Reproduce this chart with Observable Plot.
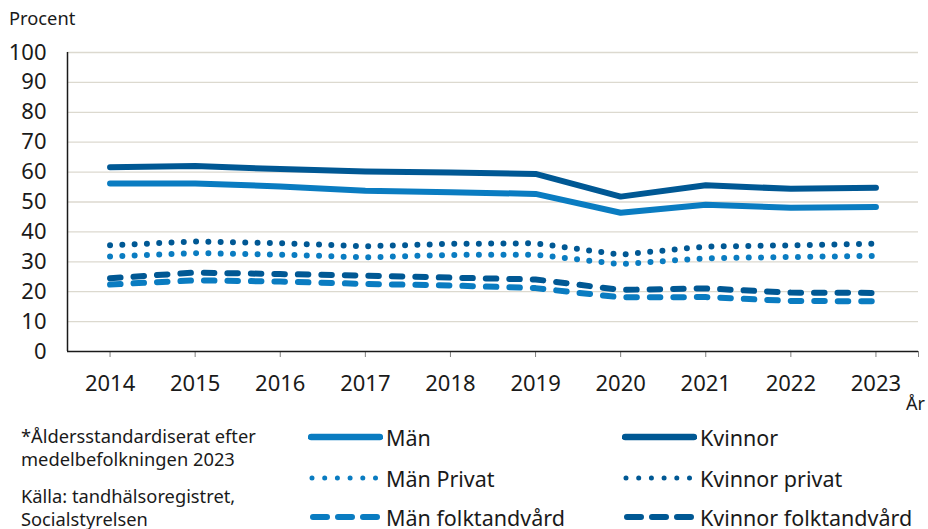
<!DOCTYPE html>
<html>
<head>
<meta charset="utf-8">
<script src="https://cdn.jsdelivr.net/npm/d3@7"></script>
<script src="https://cdn.jsdelivr.net/npm/@observablehq/plot@0.6"></script>
<style>
  body { margin: 0; background: #fff; font-family: "Noto Sans", sans-serif; color: #1a1a1a; }
  #wrap { position: relative; width: 928px; height: 529px; overflow: hidden; }
  .abs { position: absolute; white-space: nowrap; }
  .note { font-size: 18.3px; line-height: 23px; }
  .leg { font-size: 21.5px; display: flex; align-items: center; }
  .leg svg { margin-right: 3px; }
</style>
</head>
<body>
<div id="wrap"></div>
<script>
const years = [2014, 2015, 2016, 2017, 2018, 2019, 2020, 2021, 2022, 2023];
const man = [56.2, 56.2, 55.2, 53.8, 53.3, 52.7, 46.4, 49.1, 48.1, 48.3];
const kvinnor = [61.6, 62.0, 61.0, 60.2, 59.9, 59.4, 51.8, 55.6, 54.4, 54.8];
const manPrivat = [31.8, 32.9, 32.4, 31.5, 32.3, 32.4, 29.2, 31.2, 31.6, 32.0];
const kvinnorPrivat = [35.5, 36.8, 36.2, 35.2, 36.0, 36.2, 32.4, 35.1, 35.5, 36.1];
const manFolk = [22.4, 23.8, 23.4, 22.6, 22.1, 21.2, 18.1, 18.2, 16.9, 16.8];
const kvinnorFolk = [24.5, 26.4, 25.9, 25.4, 24.7, 24.1, 20.6, 21.1, 19.7, 19.6];
const yTicks = [0, 10, 20, 30, 40, 50, 60, 70, 80, 90, 100];
const seriesNames = ["Män", "Kvinnor", "Män Privat", "Kvinnor privat", "Män folktandvård", "Kvinnor folktandvård"];

const C_MAN = "#0a7cc1";
const C_KV = "#005894";
const DOT = "0,12.3";
const DASH = "10.5,13";

const seriesDefs = [
  {name: seriesNames[0], values: man, color: C_MAN, dash: null},
  {name: seriesNames[1], values: kvinnor, color: C_KV, dash: null},
  {name: seriesNames[2], values: manPrivat, color: C_MAN, dash: DOT},
  {name: seriesNames[3], values: kvinnorPrivat, color: C_KV, dash: DOT},
  {name: seriesNames[4], values: manFolk, color: C_MAN, dash: DASH},
  {name: seriesNames[5], values: kvinnorFolk, color: C_KV, dash: DASH}
];

const lineMarks = seriesDefs.map(s => Plot.line(
  years.map((y, i) => ({year: y, value: s.values[i]})),
  {x: "year", y: "value", stroke: s.color, strokeWidth: 6,
   strokeLinecap: "round", strokeLinejoin: "round",
   strokeDasharray: s.dash ?? undefined}
));

const xLo = years[0] - 0.5, xHi = years[years.length - 1] + 0.5;

const chart = Plot.plot({
  width: 928,
  height: 420,
  marginLeft: 67,
  marginRight: 10,
  marginTop: 52,
  marginBottom: 69,
  style: {fontFamily: "Noto Sans", color: "#1a1a1a", background: "transparent"},
  x: {domain: [xLo, xHi]},
  y: {domain: [0, 100]},
  marks: [
    Plot.gridY(yTicks.slice(1), {stroke: "#dcd9cf", strokeOpacity: 1, strokeWidth: 1.3}),
    Plot.axisY({ticks: yTicks, tickSize: 0, tickPadding: 21, fontSize: 22, label: null}),
    Plot.axisX({ticks: [...years, xHi], tickSize: 6, tickFormat: () => "", stroke: "#808080", label: null}),
    Plot.axisX({ticks: years, tickSize: 0, tickPadding: 24, fontSize: 22, tickFormat: d => String(d), label: null}),
    Plot.ruleY([0], {stroke: "#1a1a1a", strokeWidth: 1.5}),
    Plot.ruleX([xLo], {stroke: "#1a1a1a", strokeWidth: 1.5}),
    ...lineMarks
  ]
});

const wrap = document.getElementById("wrap");
chart.style.position = "absolute";
chart.style.left = "0px";
chart.style.top = "0px";
wrap.appendChild(chart);

function addDiv(cls, text, left, top, extra) {
  const d = document.createElement("div");
  d.className = "abs " + cls;
  d.textContent = text;
  d.style.left = left + "px";
  d.style.top = top + "px";
  if (extra) Object.assign(d.style, extra);
  wrap.appendChild(d);
  return d;
}

addDiv("", "Procent", 9, 5, {fontSize: "18.3px"});
addDiv("", "År", 906, 391, {fontSize: "18px"});
addDiv("note", "*Åldersstandardiserat efter", 21, 424);
addDiv("note", "medelbefolkningen 2023", 21, 447);
addDiv("note", "Källa: tandhälsoregistret,", 21, 484);
addDiv("note", "Socialstyrelsen", 21, 507);

const legPos = [
  [308, 437], [622, 437],
  [308, 478], [622, 478],
  [308, 517], [622, 517]
];
seriesDefs.forEach((s, i) => {
  const [lx, ly] = legPos[i];
  const d = document.createElement("div");
  d.className = "abs leg";
  d.style.left = lx + "px";
  d.style.top = (ly - 14) + "px";
  d.style.height = "28px";
  let sw;
  if (s.dash === DOT) {
    sw = `<svg width="75" height="10"><line x1="4" y1="5" x2="70" y2="5" stroke="${s.color}" stroke-width="5" stroke-linecap="round" stroke-dasharray="0,12.7"/></svg>`;
  } else if (s.dash === DASH) {
    sw = `<svg width="75" height="10"><line x1="5" y1="5" x2="70" y2="5" stroke="${s.color}" stroke-width="6" stroke-linecap="round" stroke-dasharray="14,11"/></svg>`;
  } else {
    sw = `<svg width="75" height="10"><line x1="3" y1="5" x2="72" y2="5" stroke="${s.color}" stroke-width="6.5" stroke-linecap="round"/></svg>`;
  }
  d.innerHTML = sw + `<span>${s.name}</span>`;
  wrap.appendChild(d);
});
</script>
</body>
</html>
